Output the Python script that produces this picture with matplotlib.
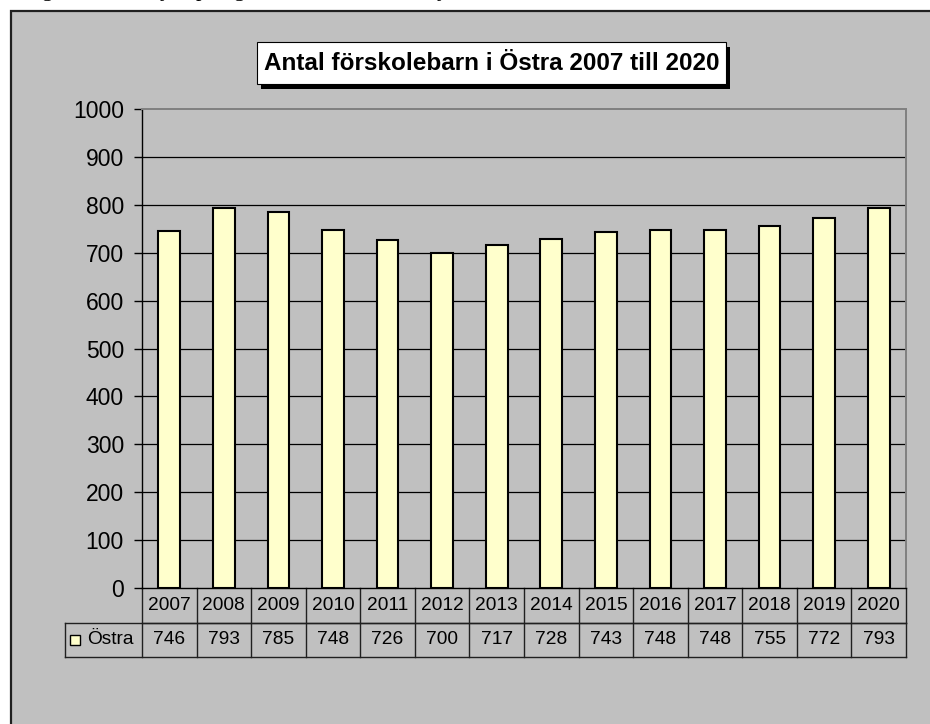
import matplotlib.pyplot as plt
from matplotlib.patches import Rectangle
from matplotlib.transforms import blended_transform_factory

# chart data
years = ['2007', '2008', '2009', '2010', '2011', '2012', '2013',
         '2014', '2015', '2016', '2017', '2018', '2019', '2020']
ostra = [746, 793, 785, 748, 726, 700, 717, 728, 743, 748, 748, 755, 772, 793]
series_name = 'Östra'
title = 'Antal förskolebarn i Östra 2007 till 2020'
yticks = [0, 100, 200, 300, 400, 500, 600, 700, 800, 900, 1000]

W, H = 930, 724
BG = '#C0C0C0'
BAR = '#FFFFCC'
plt.rcParams['font.family'] = ['Liberation Sans', 'DejaVu Sans']


def fx(px):
    return px / W


def fy(py):
    return 1 - py / H


fig = plt.figure(figsize=(W / 100, H / 100), dpi=100)
fig.patch.set_facecolor('white')

# chart area (grey with black border at top/left, runs off the page)
fig.patches.append(Rectangle((fx(11), fy(H + 20)), fx(W + 20) - fx(11), fy(11) - fy(H + 20),
                             transform=fig.transFigure, facecolor=BG,
                             edgecolor='#202020', lw=1.6, zorder=-10))

# cut-off line of document text above the chart
for ch, x in [('g', 42), ('y', 160), ('p', 196), ('g', 234), ('y', 437)]:
    fig.text(fx(x), fy(-4), ch, family='Liberation Serif', fontsize=16,
             va='baseline', ha='left', color='black')

# title box with shadow
bx0, bx1, by0, by1 = 257, 726, 42, 84
fig.patches.append(Rectangle((fx(bx0 + 4), fy(by1 + 5)), fx(bx1) - fx(bx0), fy(by0) - fy(by1),
                             transform=fig.transFigure, facecolor='black',
                             edgecolor='black', lw=0, zorder=1))
fig.patches.append(Rectangle((fx(bx0), fy(by1)), fx(bx1) - fx(bx0), fy(by0) - fy(by1),
                             transform=fig.transFigure, facecolor='white',
                             edgecolor='black', lw=0.8, zorder=2))
fig.text(fx((bx0 + bx1) / 2), fy((by0 + by1) / 2 + 1), title, ha='center', va='center',
         fontsize=17.5, fontweight='bold', zorder=3)

# plot area
left, right, top, bottom = 142, 906, 109, 588
ax = fig.add_axes([fx(left), fy(bottom), fx(right) - fx(left), fy(top) - fy(bottom)])
ax.set_facecolor(BG)
x = list(range(len(years)))
ax.bar(x, ostra, width=0.4, color=BAR, edgecolor='black', linewidth=1.5, zorder=3)
ax.set_xlim(-0.5, len(years) - 0.5)
ax.set_ylim(0, 1000)
ax.set_yticks(yticks)
ax.set_yticklabels([str(t) for t in yticks], fontsize=16.5)
ax.tick_params(axis='y', length=6, width=1, pad=7, color='black')
ax.set_xticks([])
for t in yticks[1:-1]:
    ax.axhline(t, color='black', lw=0.9, zorder=1)
for s in ['top', 'right']:
    ax.spines[s].set_color('#808080')
    ax.spines[s].set_linewidth(1.4)
ax.spines['left'].set_color('black')
ax.spines['bottom'].set_color('black')
ax.spines['left'].set_linewidth(1)
ax.spines['bottom'].set_linewidth(1)

# data table below the plot
ax_h = bottom - top
r1 = -35 / ax_h
r2 = -69 / ax_h
leg_left = (65 - left) / (right - left)
tr = blended_transform_factory(ax.transData, ax.transAxes)
line_kw = dict(color='#202020', lw=1, clip_on=False)
for i in range(len(years) + 1):
    ax.plot([i - 0.5, i - 0.5], [0, r2], transform=tr, **line_kw)
ax.plot([0, 1], [r1, r1], transform=ax.transAxes, **line_kw)
ax.plot([leg_left, 1], [r1, r1], transform=ax.transAxes, **line_kw)
ax.plot([leg_left, 1], [r2, r2], transform=ax.transAxes, **line_kw)
ax.plot([leg_left, leg_left], [r1, r2], transform=ax.transAxes, **line_kw)
for i, (yr, v) in enumerate(zip(years, ostra)):
    ax.text(i, r1 / 2, yr, transform=tr, ha='center', va='center', fontsize=13.8)
    ax.text(i, (r1 + r2) / 2, str(v), transform=tr, ha='center', va='center', fontsize=13.8)

# legend key in the table
sq = 10 / (right - left)
sq_h = 10 / ax_h
ax.add_patch(Rectangle((leg_left + 5 / (right - left), (r1 + r2) / 2 - sq_h / 2), sq, sq_h,
                       transform=ax.transAxes, facecolor=BAR, edgecolor='black',
                       lw=1, clip_on=False))
ax.text(leg_left + 22 / (right - left), (r1 + r2) / 2, series_name, transform=ax.transAxes,
        ha='left', va='center', fontsize=13.8)

fig.savefig('out.png', dpi=100)
